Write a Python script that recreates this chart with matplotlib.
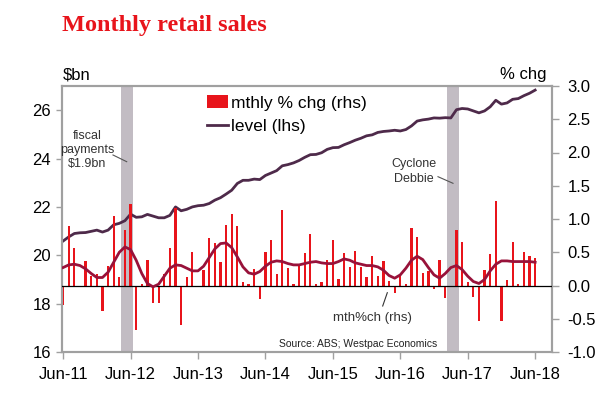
import numpy as np
import matplotlib
matplotlib.use('Agg')
import matplotlib.pyplot as plt
from matplotlib.patches import Patch
from matplotlib.lines import Line2D

plt.rcParams['font.family'] = ['Liberation Sans', 'DejaVu Sans']

# monthly data, Jun-11 .. Jun-18 (month index 0..84)
mthly_chg = [-0.30, 0.89, 0.57, -0.03, 0.37, 0.15, 0.18, -0.38, 0.29, 1.05,
             0.13, 0.83, 1.23, -0.67, 0.02, 0.39, -0.27, -0.27, 0.17, 0.57,
             1.17, -0.60, 0.13, 0.50, -0.03, 0.23, 0.72, 0.64, 0.36, 0.91,
             1.07, 0.89, 0.06, 0.03, 0.25, -0.21, 0.51, 0.69, 0.18, 1.13,
             0.27, 0.02, 0.31, 0.49, 0.78, 0.02, 0.05, 0.38, 0.69, 0.10,
             0.49, 0.28, 0.52, 0.28, 0.13, 0.45, 0.15, 0.37, 0.07, -0.11,
             0.17, 0.03, 0.86, 0.73, 0.19, 0.22, -0.05, 0.38, -0.19, -0.03,
             0.83, 0.66, 0.05, -0.18, -0.53, 0.23, 0.47, 1.27, -0.54, 0.09,
             0.65, 0.02, 0.50, 0.44, 0.41]

mth_trend = [0.27, 0.31, 0.32, 0.30, 0.25, 0.18, 0.12, 0.12, 0.20, 0.35,
             0.50, 0.58, 0.54, 0.38, 0.18, 0.03, -0.02, 0.02, 0.14, 0.26,
             0.31, 0.30, 0.26, 0.22, 0.22, 0.29, 0.42, 0.55, 0.63, 0.64,
             0.57, 0.43, 0.28, 0.19, 0.17, 0.21, 0.29, 0.35, 0.37, 0.36,
             0.33, 0.31, 0.31, 0.33, 0.35, 0.36, 0.34, 0.33, 0.33, 0.36,
             0.40, 0.38, 0.34, 0.32, 0.30, 0.30, 0.28, 0.23, 0.15, 0.11,
             0.16, 0.26, 0.38, 0.44, 0.39, 0.27, 0.16, 0.11, 0.18, 0.27,
             0.30, 0.24, 0.14, 0.06, 0.03, 0.09, 0.22, 0.32, 0.37, 0.37,
             0.36, 0.36, 0.36, 0.36, 0.35]

level = [20.59, 20.76, 20.90, 20.93, 20.94, 20.99, 21.04, 20.96, 21.04, 21.26,
         21.32, 21.43, 21.70, 21.57, 21.59, 21.69, 21.62, 21.55, 21.55, 21.65,
         22.00, 21.84, 21.90, 22.00, 22.05, 22.07, 22.14, 22.28, 22.38, 22.53,
         22.69, 22.97, 23.10, 23.10, 23.15, 23.13, 23.30, 23.40, 23.50, 23.70,
         23.75, 23.82, 23.92, 24.05, 24.16, 24.17, 24.24, 24.38, 24.45, 24.46,
         24.57, 24.66, 24.76, 24.84, 24.94, 24.98, 25.08, 25.12, 25.14, 25.17,
         25.14, 25.20, 25.35, 25.55, 25.60, 25.63, 25.68, 25.67, 25.69, 25.68,
         26.02, 26.07, 26.05, 25.97, 25.89, 25.97, 26.14, 26.41, 26.25, 26.30,
         26.45, 26.48, 26.60, 26.70, 26.83]

tick_labels = ['Jun-11', 'Jun-12', 'Jun-13', 'Jun-14', 'Jun-15', 'Jun-16', 'Jun-17', 'Jun-18']
bands = [(10.3, 12.4), (68.3, 70.4)]  # fiscal payments, Cyclone Debbie

x = np.arange(len(level))

bar_red = '#e8141b'
level_col = '#4e2a4a'
trend_col = '#98123a'
spine_col = '#a0a0a0'

fig = plt.figure(figsize=(6, 3.99), dpi=100)
ax = fig.add_axes([62/600, 1 - 352/399, 490/600, 266/399])
ax2 = ax.twinx()

for b0, b1 in bands:
    ax.axvspan(b0, b1, color='#c2bcc3', zorder=0, lw=0)

ax.plot(x, level, color=level_col, lw=2, zorder=3)
ax2.bar(x, mthly_chg, width=0.4, color=bar_red, zorder=2)
ax2.axhline(0, color='black', lw=0.9, zorder=3)
ax2.plot(x, mth_trend, color=trend_col, lw=2, zorder=4)

ax.set_xlim(-0.2, 87)
ax.set_ylim(16, 27)
ax2.set_ylim(-1, 3)
ax.set_yticks(np.arange(16, 27, 2))
ax2.set_yticks(np.arange(-1, 3.01, 0.5))
ax2.set_yticklabels(['%.1f' % v for v in np.arange(-1, 3.01, 0.5)])
ax.set_xticks(np.arange(0, 85, 12))
ax.set_xticklabels(tick_labels)

for a in (ax, ax2):
    for s in a.spines.values():
        s.set_color(spine_col)
        s.set_linewidth(1.5)
ax.tick_params(axis='x', length=5, width=1, color=spine_col, labelsize=12, pad=6)
ax.tick_params(axis='y', length=4, width=1, color=spine_col, labelsize=12, pad=4)
ax2.tick_params(axis='y', length=5, width=1, color=spine_col, labelsize=12, pad=6)

fig.text(62/600, 1 - 31/399, 'Monthly retail sales', family='Liberation Serif',
         weight='bold', fontsize=17.5, color=bar_red, va='baseline')
fig.text(63/600, 1 - 75/399, '$bn', fontsize=12, va='center')
fig.text(546/600, 1 - 75/399, '% chg', fontsize=12, va='center', ha='right')

handles = [Patch(facecolor=bar_red, edgecolor='none'),
           Line2D([0], [0], color=level_col, lw=2)]
ax2.legend(handles, ['mthly % chg (rhs)', 'level (lhs)'], loc='upper left',
           bbox_to_anchor=(200/600, 1 - 88/399), bbox_transform=fig.transFigure,
           frameon=False, fontsize=12.5, handlelength=1.2, handleheight=0.8,
           handletextpad=0.2, labelspacing=0.45, borderaxespad=0)

fig.text(87.5/600, 1 - 150/399, 'fiscal\npayments\n$1.9bn', fontsize=9,
         ha='center', va='center', linespacing=1.25, color='#333333')
fig.add_artist(Line2D([113/600, 126.7/600], [1 - 155/399, 1 - 161.7/399],
                      color='#555555', lw=0.8))
fig.text(414/600, 1 - 171.5/399, 'Cyclone\nDebbie', fontsize=9,
         ha='center', va='center', linespacing=1.25, color='#333333')
fig.add_artist(Line2D([438/600, 453/600], [1 - 176.7/399, 1 - 183.3/399],
                      color='#555555', lw=0.8))
fig.text(372/600, 1 - 318/399, 'mth%ch (rhs)', fontsize=9.5,
         ha='center', va='center', color='#333333')
fig.add_artist(Line2D([382.7/600, 387.3/600], [1 - 306/399, 1 - 292.7/399],
                      color='#333333', lw=0.8))
fig.text(437/600, 1 - 344/399, 'Source: ABS; Westpac Economics', fontsize=7.5,
         ha='right', va='center', color='#222222')

fig.savefig('out.png', dpi=100)
